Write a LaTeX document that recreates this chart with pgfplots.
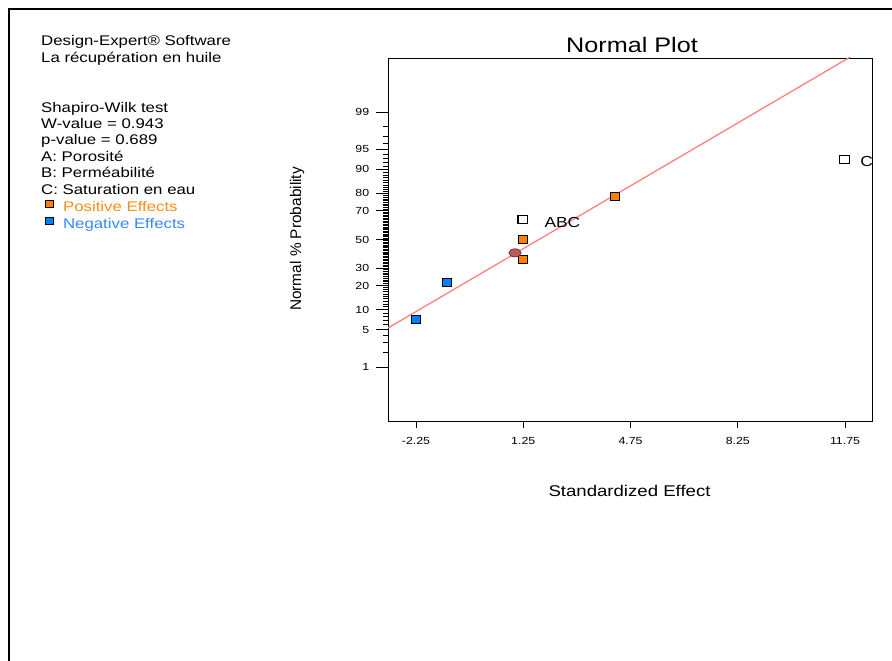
\documentclass[border=0pt]{standalone}
\usepackage{pgfplots}
\pgfplotsset{compat=1.18}
\usepackage{fontspec}
\setmainfont{Liberation Sans}[FakeStretch=1.2]
\newfontfamily\plainsans{Liberation Sans}
\definecolor{posorange}{RGB}{255,128,0}
\definecolor{negblue}{RGB}{0,128,255}
\definecolor{postext}{RGB}{255,140,26}
\definecolor{negtext}{RGB}{51,136,255}
\definecolor{linered}{RGB}{255,128,128}
\definecolor{ellred}{RGB}{184,92,92}
\definecolor{ellline}{RGB}{90,40,40}
\begin{document}
\begin{tikzpicture}[x=1bp,y=1bp]
\useasboundingbox (0,0) rectangle (892,661);
\draw[line width=2bp] (9,0) -- (9,652) -- (892,652);
% left text block
\begin{scope}[every node/.style={anchor=base west, inner sep=0pt, font=\fontsize{14bp}{16.6bp}\selectfont}]
\node at (41,615.3) {Design-Expert\textregistered{} Software};
\node at (41,598.7) {La récupération en huile};
\node at (41,548.7) {Shapiro-Wilk test};
\node at (41,532.5) {W-value = 0.943};
\node at (41,516.2) {p-value = 0.689};
\node at (41,499.8) {A: Porosité};
\node at (41,483.3) {B: Perméabilité};
\node at (41,466.8) {C: Saturation en eau};
\end{scope}
\begin{axis}[
  at={(388bp,240bp)}, anchor=south west,
  scale only axis, width=484bp, height=363bp,
  xmin=-3.164, xmax=12.63, ymin=-3.31, ymax=3.31,
  axis line style={black, line width=0.9bp},
  tick align=outside, xtick pos=bottom, ytick pos=left,
  xtick={-2.25,1.25,4.75,8.25,11.75},
  xticklabels={-2.25,1.25,4.75,8.25,11.75},
  ytick={-2.3263,-1.6449,-1.2816,-0.8416,-0.5244,0,0.5244,0.8416,1.2816,1.6449,2.3263},
  yticklabels={1,5,10,20,30,50,70,80,90,95,99},
  minor ytick={-2.0537,-1.8808,-1.7507,-1.5548,-1.4758,-1.4051,-1.3408,-1.2265,-1.1750,-1.1264,-1.0803,-1.0364,-0.9945,-0.9542,-0.9154,-0.8779,-0.8064,-0.7722,-0.7388,-0.7063,-0.6745,-0.6433,-0.6128,-0.5828,-0.5534,-0.4959,-0.4677,-0.4399,-0.4125,-0.3853,-0.3585,-0.3319,-0.3055,-0.2793,-0.2533,-0.2275,-0.2019,-0.1764,-0.1510,-0.1257,-0.1004,-0.0753,-0.0502,-0.0251,0.0251,0.0502,0.0753,0.1004,0.1257,0.1510,0.1764,0.2019,0.2275,0.2533,0.2793,0.3055,0.3319,0.3585,0.3853,0.4125,0.4399,0.4677,0.4959,0.5534,0.5828,0.6128,0.6433,0.6745,0.7063,0.7388,0.7722,0.8064,0.8779,0.9154,0.9542,0.9945,1.0364,1.0803,1.1264,1.1750,1.2265,1.3408,1.4051,1.4758,1.5548,1.7507,1.8808,2.0537},
  xtick style={black, line width=0.8bp, /pgfplots/major tick length=7bp},
  ytick style={black, line width=0.8bp, /pgfplots/major tick length=12bp, /pgfplots/minor tick length=5bp},
  /pgf/number format/assume math mode=true,
  ticklabel style={font=\fontsize{10.3bp}{12bp}\selectfont},
  xticklabel style={yshift=-8.4bp},
  yticklabel style={xshift=-11.1bp},
  legend image code/.code={\draw[#1] (0bp,1.7bp) rectangle (8bp,8.7bp);},
  legend cell align=left,
  legend style={at={(rel axis cs:-0.7087,0.6096)}, anchor=north west, draw=none, fill=none,
    inner sep=0pt, outer sep=0pt, row sep=0pt,
    font=\fontsize{14bp}{16.6bp}\selectfont,
    nodes={inner sep=0pt, text height=11bp, text depth=5.6bp},
    /tikz/every odd column/.append style={column sep=9.3bp}},
]
\addplot[forget plot, color=linered, line width=1.3bp] coordinates {(-3.164,-1.614) (12.63,3.56)};
\addplot[forget plot, only marks, mark=square*, mark size=4.7bp,
  mark options={fill=negblue, draw=black, line width=0.9bp, yscale=0.85}]
  coordinates {(-2.26,-1.4652) (-1.25,-0.7916)};
\addplot[forget plot, only marks, mark=square*, mark size=4.7bp,
  mark options={fill=posorange, draw=black, line width=0.9bp, yscale=0.85}]
  coordinates {(1.23,-0.3661) (1.23,0) (4.245,0.7916)};
\addplot[forget plot, only marks, mark=square*, mark size=4.7bp,
  mark options={fill=white, draw=black, line width=1.2bp, yscale=0.85}]
  coordinates {(1.23,0.3661) (11.73,1.4652)};
\addplot[forget plot, only marks, mark=*, mark size=4.1bp,
  mark options={xscale=1.5, fill=ellred, draw=ellline, line width=0.6bp}]
  coordinates {(0.98,-0.244)};
\addlegendimage{fill=posorange, draw=black, line width=0.8bp}
\addlegendentry{\textcolor{postext}{Positive Effects}}
\addlegendimage{fill=negblue, draw=black, line width=0.8bp}
\addlegendentry{\textcolor{negtext}{Negative Effects}}
\node[anchor=base west, inner sep=0pt, font=\fontsize{14.5bp}{17bp}\selectfont] at (axis cs:1.937,0.219) {ABC};
\begin{scope}
\clip (rel axis cs:0,0) rectangle (rel axis cs:1,1);
\node[anchor=base west, inner sep=0pt, font=\fontsize{14.5bp}{17bp}\selectfont] at (axis cs:12.24,1.323) {C};
\end{scope}
\end{axis}
\node[anchor=base, inner sep=0pt, font=\fontsize{21bp}{25bp}\selectfont] at (632,608) {Normal Plot};
\node[anchor=base, inner sep=0pt, font=\fontsize{15.5bp}{18bp}\selectfont] at (629.5,164.3) {Standardized Effect};
\node[anchor=base, rotate=90, inner sep=0pt, font=\plainsans\fontsize{15.4bp}{18bp}\selectfont] at (301,422) {Normal \% Probability};
\end{tikzpicture}
\end{document}
